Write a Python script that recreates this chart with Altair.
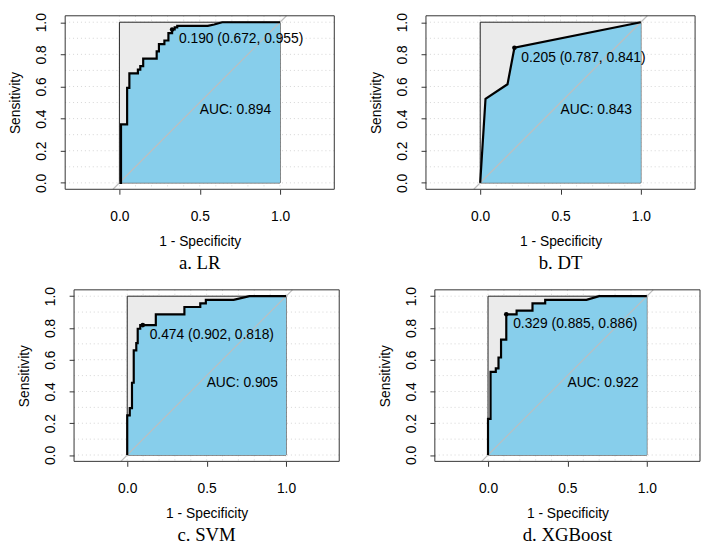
import altair as alt
import pandas as pd

# ---------------- data ----------------
LR_X = [0, 0.01, 0.01, 0.048, 0.048, 0.062, 0.062, 0.115, 0.115, 0.13, 0.13, 0.148, 0.148,
        0.232, 0.232, 0.246, 0.246, 0.28, 0.28, 0.305, 0.305, 0.328, 0.328, 0.344, 0.344,
        0.36, 0.36, 0.55, 0.59, 0.64, 1.0]
LR_Y = [0, 0, 0.364, 0.364, 0.591, 0.591, 0.682, 0.682, 0.705, 0.705, 0.727, 0.727, 0.773,
        0.773, 0.818, 0.818, 0.864, 0.864, 0.886, 0.886, 0.932, 0.932, 0.955, 0.955, 0.968,
        0.968, 0.977, 0.977, 0.986, 1.0, 1.0]

DT_X = [0, 0.033, 0.17, 0.213, 1.0]
DT_Y = [0, 0.523, 0.614, 0.841, 1.0]

SVM_X = [0, 0, 0.016, 0.016, 0.03, 0.03, 0.041, 0.041, 0.057, 0.057, 0.066, 0.066, 0.082,
         0.082, 0.098, 0.18, 0.18, 0.36, 0.36, 0.46, 0.46, 0.495, 0.495, 0.67, 0.77, 1.0]
SVM_Y = [0, 0.25, 0.25, 0.295, 0.295, 0.455, 0.455, 0.659, 0.659, 0.705, 0.705, 0.795, 0.795,
         0.818, 0.818, 0.818, 0.886, 0.886, 0.932, 0.932, 0.955, 0.955, 0.977, 0.977, 1.0, 1.0]

XGB_X = [0, 0, 0.016, 0.016, 0.049, 0.049, 0.066, 0.066, 0.082, 0.082, 0.115, 0.115, 0.18,
         0.18, 0.28, 0.28, 0.36, 0.36, 0.62, 0.70, 1.0]
XGB_Y = [0, 0.227, 0.227, 0.523, 0.523, 0.545, 0.545, 0.614, 0.614, 0.727, 0.727, 0.886, 0.886,
         0.909, 0.909, 0.955, 0.955, 0.977, 0.977, 1.0, 1.0]

THRESHOLDS = ["0.190", "0.205", "0.474", "0.329"]
SPECIFICITY = [0.672, 0.787, 0.902, 0.885]
SENSITIVITY = [0.955, 0.841, 0.818, 0.886]
AUC = [0.894, 0.843, 0.905, 0.922]
CAPTIONS = ["a. LR", "b. DT", "c. SVM", "d. XGBoost"]

X_TICKS = [0.0, 0.5, 1.0]
Y_TICKS = [0.0, 0.2, 0.4, 0.6, 0.8, 1.0]
GRID = [0.0, 0.1, 0.2, 0.3, 0.4, 0.5, 0.6, 0.7, 0.8, 0.9, 1.0]
AUC_POS = (0.5, 0.5)

FONT = "Liberation Sans"
GRID_COLOR = "#d4d4d4"
FRAME_COLOR = "#333333"


def panel(xs, ys, thr, spec, sens, auc, caption, W, H, e=0):
    """W x H is the framed plot box; e is an extra blank strip left of it (layout)."""
    s = H / 1.08
    half = (W / s - 1) / 2
    xdom = [-half - e / s, 1 + half]
    ydom = [-0.04, 1.04]
    xscale = alt.Scale(domain=xdom, nice=False, zero=False)
    yscale = alt.Scale(domain=ydom, nice=False, zero=False)
    xaxis = alt.Axis(values=X_TICKS, format=".1f", title="1 - Specificity", grid=False,
                     domain=False, tickSize=5, labelPadding=16, titlePadding=11,
                     titleX=e + W / 2)
    yaxis = alt.Axis(values=Y_TICKS, format=".1f", title="Sensitivity", grid=False,
                     domain=False, tickSize=5, labelAngle=-90, labelAlign="center",
                     labelBaseline="bottom", labelPadding=12, titlePadding=12, offset=-e)

    def X(f="x"):
        return alt.X(f"{f}:Q", scale=xscale, axis=xaxis)

    def Y(f="y"):
        return alt.Y(f"{f}:Q", scale=yscale, axis=yaxis)

    grid_df = pd.DataFrame({"g": GRID})
    hgrid = alt.Chart(grid_df).mark_rule(color=GRID_COLOR, strokeDash=[1, 3], strokeWidth=1).encode(
        y=alt.Y("g:Q", scale=yscale, axis=yaxis), x=alt.value(e), x2=alt.value(W + e))
    vgrid = alt.Chart(grid_df).mark_rule(color=GRID_COLOR, strokeDash=[1, 3], strokeWidth=1).encode(
        x=alt.X("g:Q", scale=xscale, axis=xaxis), y=alt.value(0), y2=alt.value(H))

    box_df = pd.DataFrame({"x": [0.0], "x2": [1.0], "y": [0.0], "y2": [1.0]})
    box = alt.Chart(box_df).mark_rect(fill="#ebebeb", stroke="#222222", strokeWidth=1).encode(
        x=X(), x2="x2:Q", y=Y(), y2="y2:Q")

    curve = pd.DataFrame({"x": xs, "y": ys, "y0": [0.0] * len(xs), "i": list(range(len(xs)))})
    area = alt.Chart(curve).mark_area(fill="#87ceeb", fillOpacity=1, interpolate="linear").encode(
        x=X(), y=Y(), y2="y0:Q")

    diag_df = pd.DataFrame({"x": [ydom[0]], "y": [ydom[0]], "x2": [ydom[1]], "y2": [ydom[1]]})
    diag = alt.Chart(diag_df).mark_rule(color="#bebebe", strokeWidth=1.2).encode(
        x=X(), y=Y(), x2="x2:Q", y2="y2:Q")

    line = alt.Chart(curve).mark_line(color="black", strokeWidth=2.2).encode(
        x=X(), y=Y(), order=alt.Order("i:Q"))

    pt_df = pd.DataFrame({"x": [1 - spec], "y": [sens],
                          "t": [f"{thr} ({spec:.3f}, {sens:.3f})"]})
    pt = alt.Chart(pt_df).mark_point(filled=True, color="black", size=22, opacity=1).encode(
        x=X(), y=Y())
    ptxt = alt.Chart(pt_df).mark_text(align="left", baseline="middle", dx=7, dy=10,
                                      fontSize=14, font=FONT, color="black").encode(
        x=X(), y=Y(), text="t:N")

    auc_df = pd.DataFrame({"x": [AUC_POS[0]], "y": [AUC_POS[1]], "t": [f"AUC: {auc:.3f}"]})
    atxt = alt.Chart(auc_df).mark_text(align="left", baseline="top", dy=1,
                                       fontSize=14, font=FONT, color="black").encode(
        x=X(), y=Y(), text="t:N")

    frame = alt.Chart(pd.DataFrame({"a": [0]})).mark_rect(
        fillOpacity=0, stroke=FRAME_COLOR, strokeWidth=1).encode(
        x=alt.value(e), x2=alt.value(W + e), y=alt.value(0), y2=alt.value(H))

    return alt.layer(hgrid, vgrid, box, area, diag, line, pt, ptxt, atxt, frame).properties(
        width=W + e, height=H,
        title=alt.TitleParams(caption, orient="bottom", font="Liberation Serif", fontSize=19,
                              fontWeight="normal", color="black", anchor="middle",
                              frame="group", offset=6, dx=e / 2))


TW, TH = 273, 176
BW, BH = 269, 174
SHIFT = 9

pa = panel(LR_X, LR_Y, THRESHOLDS[0], SPECIFICITY[0], SENSITIVITY[0], AUC[0], CAPTIONS[0], TW, TH)
pb = panel(DT_X, DT_Y, THRESHOLDS[1], SPECIFICITY[1], SENSITIVITY[1], AUC[1], CAPTIONS[1], TW, TH)
pc = panel(SVM_X, SVM_Y, THRESHOLDS[2], SPECIFICITY[2], SENSITIVITY[2], AUC[2], CAPTIONS[2], BW, BH,
           e=SHIFT)
pd_ = panel(XGB_X, XGB_Y, THRESHOLDS[3], SPECIFICITY[3], SENSITIVITY[3], AUC[3], CAPTIONS[3], BW, BH,
            e=SHIFT)

chart = alt.concat(
    pa, pb, pc, pd_, columns=2,
    spacing={"row": 13, "column": 29},
).properties(padding=0).configure(font=FONT).configure_view(
    strokeWidth=0
).configure_axis(
    labelFont=FONT, titleFont=FONT, labelFontSize=14, titleFontSize=14,
    titleFontWeight="normal", labelColor="black", titleColor="black", tickColor="#333333"
)

chart.save("out.html", embed_options={"renderer": "svg", "actions": False})
